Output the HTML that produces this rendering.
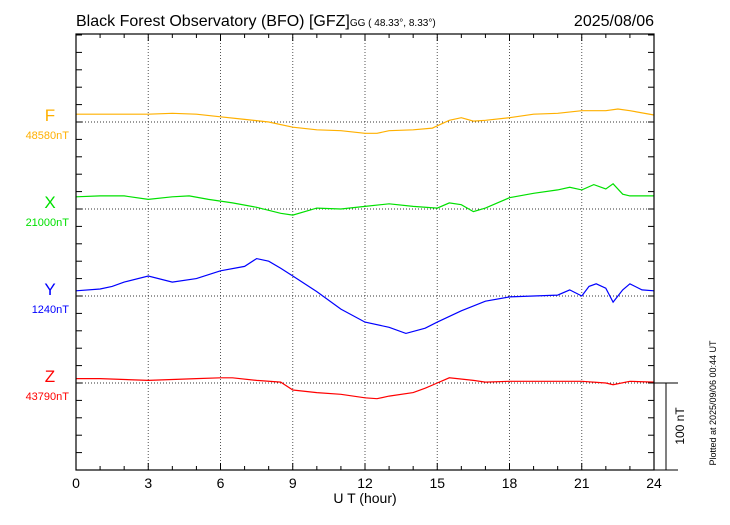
<!DOCTYPE html>
<html><head><meta charset="utf-8"><style>
body{margin:0;background:#fff;font-family:"Liberation Sans",sans-serif}
svg text{font-family:"Liberation Sans",sans-serif}
</style></head><body>
<svg id="c" width="730" height="520" xmlns="http://www.w3.org/2000/svg">
<text x="76" y="26" font-size="16">Black Forest Observatory (BFO)  [GFZ]<tspan font-size="10">GG ( 48.33°,   8.33°)</tspan></text>
<text x="654" y="26" font-size="16" text-anchor="end">2025/08/06</text>
<g id="grid"></g><g id="series"></g><g id="axes"></g>
<text transform="translate(716,403) rotate(-90)" font-size="9" text-anchor="middle">Plotted at 2025/09/06 00:44 UT</text>
</svg>
<script>
const hoursF=[0,1,2,3,4,5,6,7,8,9,10,11,12,12.5,13,14,14.8,15.5,16,16.5,17,18,19,20,21,22,22.5,23,24];
const valsF=[9,9,9,9,10,9,6,3,0,-6,-9,-10,-13,-13,-10,-9,-7,2,5,1,2,5,9,10,13,13,15,13,8];
const hoursX=[0,1,2,3,4,4.7,5.5,6.5,7.5,8.5,9,10,11,12,13,14,15,15.5,16,16.5,17,18,19,20,20.5,21,21.5,22,22.3,22.7,23,24];
const valsX=[14,15,15,11,14,15,11,7,2,-5,-7,1,0,3,6,3,1,7,5,-3,1,13,18,22,25,22,28,23,29,17,15,15];
const hoursY=[0,1,1.5,2,3,4,5,6,7,7.5,8,8.5,9,10,11,12,13,13.7,14.5,15,16,17,18,19,20,20.5,21,21.3,21.6,22,22.3,22.7,23,23.5,24];
const valsY=[6,8,11,16,23,16,20,29,34,43,40,32,23,5,-15,-30,-36,-43,-37,-30,-17,-6,-1,0,1,7,0,11,14,9,-7,7,14,7,6];
const hoursZ=[0,1,3,5,6,6.5,7.5,8.5,9,10,11,12,12.5,13,14,14.5,15,15.5,16.5,17,18,19,20,21,22,22.3,23,24];
const valsZ=[5,5,3,5,6,6,3,1,-8,-11,-13,-17,-18,-15,-11,-6,0,6,3,1,2,2,2,2,0,-2,2,1];
const xTicks=[0,3,6,9,12,15,18,21,24];
const comps=['F','X','Y','Z'];
const compBase=['48580nT','21000nT','1240nT','43790nT'];
const L=76,R=654,T=34,B=470,PXNT=0.87;
const bases=[122,209,296,383];
const colors=['#ffb000','#00e000','#0000ff','#ff0000'];
const xs=h=>L+(R-L)*h/24;
const ys=(v,i)=>bases[i]-v*PXNT;
const NS='http://www.w3.org/2000/svg';
function mk(tag,at,parent){const e=document.createElementNS(NS,tag);for(const k in at)e.setAttribute(k,at[k]);parent.appendChild(e);return e;}
const grid=document.getElementById('grid'),ser=document.getElementById('series'),ax=document.getElementById('axes');
xTicks.slice(1,-1).forEach(h=>{const l=mk('line',{x1:xs(h),x2:xs(h),y1:T,y2:B,stroke:'#555','stroke-dasharray':'1,2'},grid);

});
bases.forEach(b=>{const l=mk('line',{x1:L,x2:R,y1:b,y2:b,stroke:'#333','stroke-dasharray':'1,2'},grid);

});
const H=[hoursF,hoursX,hoursY,hoursZ],V=[valsF,valsX,valsY,valsZ];
for(let i=0;i<4;i++){
 const d=H[i].map((h,j)=>(j?'L':'M')+xs(h).toFixed(1)+','+ys(V[i][j],i).toFixed(1)).join('');
 const p=mk('path',{d:d,fill:'none',stroke:colors[i],'stroke-width':1.2},ser);
 
 
 const t=mk('text',{x:50,y:bases[i]-1,'font-size':17,fill:colors[i],'text-anchor':'middle'},ax);t.textContent=comps[i];
 
 
 const t2=mk('text',{x:69,y:bases[i]+17,'font-size':11,fill:colors[i],'text-anchor':'end'},ax);t2.textContent=compBase[i];
 
 
}
const fr=mk('rect',{x:L,y:T,width:R-L,height:B-T,fill:'none',stroke:'#000','stroke-width':1.2},ax);


for(let h=0;h<=24;h++){const x=xs(h),len=h%3?4:7;
 mk('line',{x1:x,x2:x,y1:T,y2:T+len,stroke:'#000'},ax);mk('line',{x1:x,x2:x,y1:B,y2:B-len,stroke:'#000'},ax);}
for(let y=B;y>=T;y-=100*PXNT/5){mk('line',{x1:L,x2:L+6,y1:y,y2:y,stroke:'#000'},ax);mk('line',{x1:R,x2:R-6,y1:y,y2:y,stroke:'#000'},ax);}
xTicks.forEach(h=>{const t=mk('text',{x:xs(h),y:488,'font-size':14,'text-anchor':'middle'},ax);t.textContent=h;
 
 });
const xt=mk('text',{x:365,y:503,'font-size':14,'text-anchor':'middle'},ax);xt.textContent='U T (hour)';


mk('line',{x1:R,x2:678,y1:383,y2:383,stroke:'#000'},ax);
mk('line',{x1:R,x2:678,y1:B,y2:B,stroke:'#000'},ax);
const sb=mk('line',{x1:666,x2:666,y1:383,y2:383+100*PXNT,stroke:'#000'},ax);


const st=mk('text',{transform:'translate(684,426) rotate(-90)','font-size':12,'text-anchor':'middle'},ax);st.textContent='100 nT';


</script>
</body></html>
